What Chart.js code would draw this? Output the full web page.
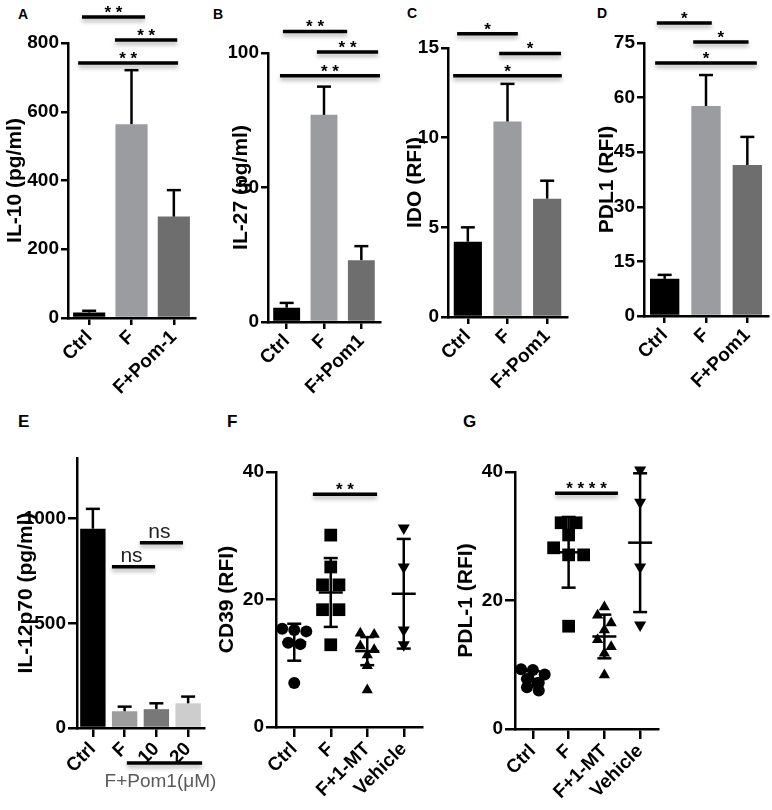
<!DOCTYPE html>
<html>
<head>
<meta charset="utf-8">
<title>IL-10 / IL-27 / IDO / PDL1 panels</title>
<script src="https://cdn.jsdelivr.net/npm/chart.js@4.4.1/dist/chart.umd.min.js"></script>
<style>
  body { margin: 0; background: #fff; }
  #fig { position: relative; width: 772px; height: 810px; overflow: hidden; background: #fff;
         font-family: "Liberation Sans", Arial, sans-serif; }
  .panel { position: absolute; }
  .letter { position: absolute; font-weight: bold; line-height: 1; color: #000; }
</style>
</head>
<body>
<div id="fig">
  <div class="letter" style="left:18px;top:7px;font-size:14px">A</div>
  <div class="letter" style="left:213px;top:7px;font-size:14px">B</div>
  <div class="letter" style="left:407px;top:6px;font-size:14px">C</div>
  <div class="letter" style="left:597px;top:6px;font-size:14px">D</div>
  <div class="letter" style="left:18px;top:413px;font-size:17px">E</div>
  <div class="letter" style="left:227px;top:413px;font-size:17px">F</div>
  <div class="letter" style="left:463px;top:413px;font-size:17px">G</div>
</div>
<script>
// ---- data ----
const groupsA = ['Ctrl', 'F', 'F+Pom-1'];
const groupsBCD = ['Ctrl', 'F', 'F+Pom1'];
const groupsE = ['Ctrl', 'F', '10', '20'];
const groupsFG = ['Ctrl', 'F', 'F+1-MT', 'Vehicle'];

const il10Mean = [16, 564, 295];
const il10Sem = [5, 157, 77];
const il27Mean = [5.3, 77, 23];
const il27Sem = [1.8, 10.5, 5.2];
const idoMean = [4.2, 10.9, 6.6];
const idoSem = [0.8, 2.1, 1.0];
const pdl1Mean = [10.2, 57.7, 41.5];
const pdl1Sem = [1.1, 8.5, 7.7];
const il12Mean = [952, 80, 90, 118];
const il12Sem = [95, 22, 28, 32];
const il12Ticks = [0, 500, 1000];

// panel F (CD39), single cells per group
const cd39Ctrl = [15.4, 15.2, 15.0, 13.2, 13.0, 6.9];
const cd39F = [30.1, 25.1, 22.3, 22.3, 18.4, 18.4, 12.9];
const cd39Mt = [14.7, 14.5, 12.7, 12.1, 11.3, 9.6, 5.8];
const cd39Veh = [31.2, 25.1, 15.2, 12.9];
const cd39Mean = [13.3, 21.1, 11.9, 20.9];
const cd39Sd = [2.9, 5.4, 2.2, 8.6];

// panel G (PDL-1)
const pdlCtrl = [9.3, 9.2, 8.5, 7.8, 7.2, 6.5, 6.0];
const pdlF = [32.1, 32.1, 30.2, 28.2, 27.1, 27.1, 16.0];
const pdlMt = [19.0, 17.7, 16.5, 15.4, 13.9, 12.8, 11.8, 8.4];
const pdlVeh = [40.3, 35.3, 25.2, 16.2];
const pdlMean = [7.8, 27.5, 14.4, 29.0];
const pdlSd = [1.2, 5.5, 3.4, 10.8];

// significance bars: from/to in category units, y in data units
const sigA = [
  {from: -0.17, to: 1.32, y: 876, text: '* *'},
  {from: 0.61, to: 2.08, y: 809, text: '* *'},
  {from: -0.26, to: 2.1, y: 742, text: '* *'}
];
const sigB = [
  {from: -0.1, to: 1.62, y: 108, text: '* *'},
  {from: 0.81, to: 2.45, y: 100.4, text: '* *'},
  {from: -0.18, to: 2.5, y: 91.5, text: '* *'}
];
const sigC = [
  {from: -0.27, to: 1.26, y: 15.8, text: '*'},
  {from: 0.79, to: 2.35, y: 14.7, text: '*'},
  {from: -0.37, to: 2.37, y: 13.45, text: '*'}
];
const sigD = [
  {from: -0.19, to: 1.14, y: 80.5, text: '*'},
  {from: 0.69, to: 2.03, y: 75.3, text: '*'},
  {from: -0.23, to: 2.23, y: 69.5, text: '*'}
];
const sigE = [
  {from: 0.6, to: 1.96, y: 770, text: 'ns', kind: 'ns'},
  {from: 1.48, to: 2.84, y: 885, text: 'ns', kind: 'ns'},
  {from: 1.07, to: 3.44, y: -167, text: 'F+Pom1(\u03bcM)', kind: 'under'}
];
const sigF = [{from: 0.51, to: 2.27, y: 36.5, text: '* *'}];
const sigG = [{from: 0.62, to: 2.38, y: 36.7, text: '* * * *'}];

// ---- layout (page pixels of each plot area) ----
const boxA = {x0: 68, x1: 195, y0: 43, y1: 318, yW: 65, top: 43, xH: 92, tick: 7};
const boxB = {x0: 268, x1: 380, y0: 53, y1: 322, yW: 39, top: 53, xH: 92, tick: 7};
const boxC = {x0: 448, x1: 567, y0: 48, y1: 317, yW: 45, top: 48, xH: 92, tick: 7};
const boxD = {x0: 644, x1: 768, y0: 43, y1: 316, yW: 49, top: 43, xH: 92, tick: 7, right: 4};
const boxE = {x0: 77, x1: 204, y0: 458, y1: 728, yW: 63, top: 20, xH: 75, tick: 9};
const boxF = {x0: 276, x1: 422, y0: 472, y1: 727, yW: 61, top: 30, xH: 82, tick: 10};
const boxG = {x0: 515, x1: 658, y0: 472, y1: 729, yW: 61, top: 30, xH: 80, tick: 10, right: 10};

const FONT = '"Liberation Sans", Arial, sans-serif';
const tickFont = {family: FONT, size: 19, weight: 'bold'};
const titleFont = {family: FONT, size: 21, weight: 'bold'};
const BLACK = '#000', LIGHT = '#9b9ca0', DARK = '#6e6e6e';

Chart.defaults.font.family = FONT;
Chart.defaults.color = BLACK;

function seg(ctx, x1, y1, x2, y2) {
    ctx.beginPath();
    ctx.moveTo(x1, y1);
    ctx.lineTo(x2, y2);
    ctx.stroke();
}

// error bars and significance brackets
const marks = {
    id: 'marks',
    afterDatasetsDraw(chart, args, opts) {
        const {ctx, scales: {x, y}} = chart;
        ctx.save();
        ctx.strokeStyle = BLACK;
        ctx.lineWidth = 2.5;
        if (opts.upper) {
            const vals = chart.data.datasets[0].data;
            chart.getDatasetMeta(0).data.forEach((bar, i) => {
                const top = y.getPixelForValue(vals[i] + opts.upper[i]);
                seg(ctx, bar.x, bar.y, bar.x, top);
                seg(ctx, bar.x - 7, top, bar.x + 7, top);
            });
        }
        if (opts.sd) {
            opts.mean.forEach((m, i) => {
                const px = x.getPixelForValue(i);
                const hi = y.getPixelForValue(m + opts.sd[i]);
                const lo = y.getPixelForValue(m - opts.sd[i]);
                const mid = y.getPixelForValue(m);
                seg(ctx, px, hi, px, lo);
                seg(ctx, px - 7, hi, px + 7, hi);
                seg(ctx, px - 7, lo, px + 7, lo);
                seg(ctx, px - 12, mid, px + 12, mid);
            });
        }
        ctx.restore();
    },
    afterDraw(chart, args, opts) {
        const {ctx, scales: {x, y}} = chart;
        (opts.sig || []).forEach(s => {
            const x1 = x.getPixelForValue(s.from);
            const x2 = x.getPixelForValue(s.to);
            const py = y.getPixelForValue(s.y);
            ctx.save();
            ctx.strokeStyle = BLACK;
            ctx.lineWidth = 3.5;
            ctx.shadowColor = 'rgba(0,0,0,0.3)';
            ctx.shadowBlur = 4;
            ctx.shadowOffsetY = 3;
            seg(ctx, x1, py, x2, py);
            ctx.restore();

            ctx.save();
            ctx.textAlign = 'center';
            ctx.textBaseline = 'alphabetic';
            const cx = (x1 + x2) / 2;
            if (s.kind === 'ns') {
                ctx.font = `21px ${FONT}`;
                ctx.fillStyle = '#222';
                ctx.fillText(s.text, cx - 2, py - 5);
            } else if (s.kind === 'under') {
                ctx.font = `19px ${FONT}`;
                ctx.fillStyle = '#5a5a5a';
                ctx.fillText(s.text, cx - 4, py + 24);
            } else {
                ctx.font = `bold 17px ${FONT}`;
                ctx.fillStyle = BLACK;
                ctx.fillText(s.text, cx, py + 1);
            }
            ctx.restore();
        });
    }
};

// spread points with close values side by side, like a dot plot
function spread(values, center, step) {
    const sorted = values.slice().sort((a, b) => b - a);
    const pts = [];
    let i = 0;
    while (i < sorted.length) {
        let j = i;
        while (j + 1 < sorted.length && sorted[i] - sorted[j + 1] <= 1.2) j++;
        const n = j - i + 1;
        for (let k = i; k <= j; k++) {
            pts.push({x: center + (k - i - (n - 1) / 2) * step, y: sorted[k]});
        }
        i = j + 1;
    }
    return pts;
}

function place(b) {
    const wrap = document.createElement('div');
    wrap.className = 'panel';
    wrap.style.left = (b.x0 - b.yW) + 'px';
    wrap.style.top = (b.y0 - b.top) + 'px';
    wrap.style.width = (b.x1 - b.x0 + b.yW + (b.right ?? 12)) + 'px';
    wrap.style.height = (b.y1 - b.y0 + b.top + b.xH) + 'px';
    const cv = document.createElement('canvas');
    wrap.appendChild(cv);
    document.getElementById('fig').appendChild(wrap);
    return cv;
}

function yAxis(b, title, max, step, tickValues) {
    const axis = {
        min: 0, max: max, z: 1,
        border: {color: BLACK, width: 2.5},
        grid: {drawOnChartArea: false, color: BLACK, lineWidth: 2.5, tickLength: b.tick},
        ticks: {stepSize: step, includeBounds: false, padding: 2, color: BLACK, font: tickFont,
                callback: v => String(v)},
        title: {display: true, text: title, color: BLACK, padding: 0, font: titleFont},
        afterFit: s => { s.width = b.yW; }
    };
    if (tickValues) {
        axis.afterBuildTicks = s => { s.ticks = tickValues.map(v => ({value: v})); };
    }
    return axis;
}

function xAxis(b, extra) {
    return Object.assign({
        z: 1,
        border: {color: BLACK, width: 2.5},
        grid: {drawOnChartArea: false, offset: false, color: BLACK, lineWidth: 2.5, tickLength: b.tick},
        ticks: {autoSkip: false, minRotation: 45, maxRotation: 45, padding: 1, color: BLACK, font: tickFont},
        afterFit: s => { s.height = b.xH; }
    }, extra);
}

function options(b, scales, markOpts) {
    return {
        responsive: true,
        maintainAspectRatio: false,
        animation: false,
        events: [],
        layout: {padding: {top: b.top, right: b.right ?? 12, left: 0, bottom: 0}},
        plugins: {legend: {display: false}, tooltip: {enabled: false}, marks: markOpts},
        scales: scales
    };
}

function barPanel(b, labels, means, sem, colors, yScale, sig, pct) {
    return new Chart(place(b), {
        type: 'bar',
        data: {
            labels: labels,
            datasets: [{data: means, backgroundColor: colors, borderWidth: 0,
                        barPercentage: pct, categoryPercentage: 1}]
        },
        options: options(b, {x: xAxis(b), y: yScale}, {upper: sem, sig: sig}),
        plugins: [marks]
    });
}

function dots(values, center, step, style, r, rot) {
    return {
        data: spread(values, center, step),
        pointStyle: style, pointRadius: r, pointRotation: rot || 0,
        pointBackgroundColor: BLACK, pointBorderColor: BLACK, pointBorderWidth: 0,
        clip: false
    };
}

function dotPanel(b, labels, sets, mean, sd, title, sig) {
    const x = xAxis(b, {
        type: 'linear', min: -0.5, max: 3.5, bounds: 'data',
        afterBuildTicks: s => { s.ticks = labels.map((l, i) => ({value: i})); }
    });
    x.ticks.callback = v => labels[v];
    return new Chart(place(b), {
        type: 'scatter',
        data: {datasets: sets},
        options: options(b, {x: x, y: yAxis(b, title, 40, 20)}, {mean: mean, sd: sd, sig: sig}),
        plugins: [marks]
    });
}

barPanel(boxA, groupsA, il10Mean, il10Sem, [BLACK, LIGHT, DARK],
         yAxis(boxA, 'IL-10 (pg/ml)', 800, 200), sigA, 0.76);
barPanel(boxB, groupsBCD, il27Mean, il27Sem, [BLACK, LIGHT, DARK],
         yAxis(boxB, 'IL-27 (pg/ml)', 100, 50), sigB, 0.72);
barPanel(boxC, groupsBCD, idoMean, idoSem, [BLACK, LIGHT, DARK],
         yAxis(boxC, 'IDO (RFI)', 15, 5), sigC, 0.71);
barPanel(boxD, groupsBCD, pdl1Mean, pdl1Sem, [BLACK, LIGHT, DARK],
         yAxis(boxD, 'PDL1 (RFI)', 75, 15), sigD, 0.71);
barPanel(boxE, groupsE, il12Mean, il12Sem, [BLACK, '#9d9d9d', '#787878', '#cdcdcd'],
         yAxis(boxE, 'IL-12p70 (pg/ml)', 1290, 500, il12Ticks), sigE, 0.8);

dotPanel(boxF, groupsFG, [
    dots(cd39Ctrl, 0, 0.33, 'circle', 6),
    dots(cd39F, 1, 0.45, 'rect', 9),
    dots(cd39Mt, 2, 0.38, 'triangle', 6.5),
    dots(cd39Veh, 3, 0.4, 'triangle', 7, 180)
], cd39Mean, cd39Sd, 'CD39 (RFI)', sigF);

dotPanel(boxG, groupsFG, [
    dots(pdlCtrl, 0, 0.33, 'circle', 6),
    dots(pdlF, 1, 0.42, 'rect', 9),
    dots(pdlMt, 2, 0.38, 'triangle', 6.5),
    dots(pdlVeh, 3, 0.4, 'triangle', 7, 180)
], pdlMean, pdlSd, 'PDL-1 (RFI)', sigG);
</script>
</body>
</html>
